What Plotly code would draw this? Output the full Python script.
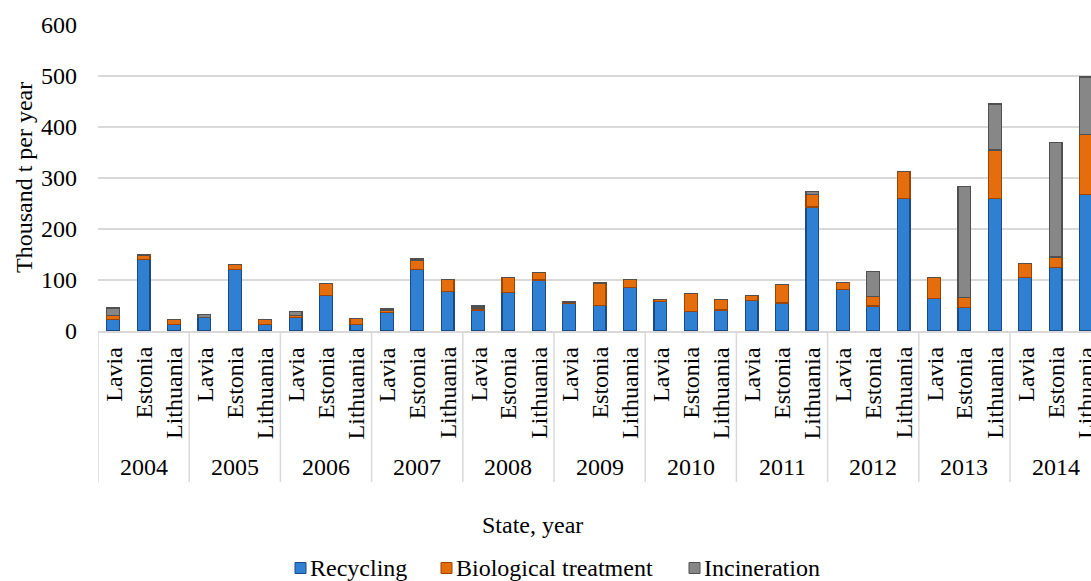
import plotly.graph_objects as go

states = ["Lavia", "Estonia", "Lithuania"]
years = ["2004", "2005", "2006", "2007", "2008", "2009", "2010", "2011", "2012", "2013", "2014"]

recycling = [23, 140, 12, 26, 120, 12, 27, 69, 12, 36, 120, 78, 41, 76, 100, 54, 50, 85,
             58, 38, 41, 60, 55, 243, 82, 49, 260, 64, 46, 260, 105, 124, 267]
biological = [7, 9, 10, 1, 11, 10, 4, 24, 12, 5, 18, 23, 4, 29, 15, 3, 43, 16,
              3, 35, 20, 9, 36, 24, 13, 19, 53, 41, 20, 95, 27, 21, 118]
incineration = [15, 0, 0, 5, 0, 0, 7, 0, 0, 3, 3, 0, 4, 0, 0, 0, 2, 0,
                0, 0, 0, 0, 0, 6, 0, 49, 0, 0, 217, 90, 0, 225, 113]

series_names = ["Recycling", "Biological treatment", "Incineration"]
FONT = "Liberation Serif"
FS = 24

n = len(years) * len(states)
xpos = list(range(n))

styles = [("#2f80d2", "#1a4a85"), ("#e66d0c", "#9a4405"), ("#878787", "#505050")]

fig = go.Figure()
for name, vals, (col, edge) in zip(series_names, [recycling, biological, incineration], styles):
    fig.add_trace(go.Bar(
        x=xpos, y=vals, name=name, width=0.42, showlegend=False,
        marker=dict(color=col, line=dict(color=edge, width=1.2)),
    ))

W, H = 1091, 581
ml, mt, mb = 98, 25, 250
plot_w = W - ml
plot_h = H - mt - mb
cat_px = 30.4
xmax = -0.5 + plot_w / cat_px
base_y = mt + plot_h


def px_x(p):
    return (p - ml) / plot_w


def px_y(p):
    return (base_y - p) / plot_h


annotations = []
for i in range(n):
    annotations.append(dict(
        x=i, xref="x", y=px_y(345), yref="paper", text=states[i % 3],
        textangle=-90, xanchor="center", yanchor="top", showarrow=False,
        font=dict(family=FONT, size=FS, color="#000")))
for g, yr in enumerate(years):
    annotations.append(dict(
        x=g * 3 + 1, xref="x", y=px_y(467), yref="paper", text=yr,
        xanchor="center", yanchor="middle", showarrow=False,
        font=dict(family=FONT, size=FS, color="#000")))
annotations.append(dict(
    x=px_x(532), xref="paper", y=px_y(525), yref="paper",
    text="State, year", showarrow=False, xanchor="center", yanchor="middle",
    font=dict(family=FONT, size=FS, color="#000")))
annotations.append(dict(
    x=px_x(24), xref="paper", y=0.5, yref="paper",
    text="Thousand t per year", textangle=-90, showarrow=False,
    xanchor="center", yanchor="middle",
    font=dict(family=FONT, size=FS, color="#000")))

shapes = []
for g in range(len(years) + 1):
    shapes.append(dict(type="line", xref="x", yref="paper",
                       x0=g * 3 - 0.5, x1=g * 3 - 0.5, y0=0, y1=px_y(482),
                       line=dict(color="#d9d9d9", width=1.5)))

# custom legend
legend_sq_x = [295, 441, 689]
legend_y = 568
for name, sx, (col, edge) in zip(series_names, legend_sq_x, styles):
    shapes.append(dict(type="rect", xref="paper", yref="paper",
                       x0=px_x(sx), x1=px_x(sx + 11), y0=px_y(legend_y + 5.5), y1=px_y(legend_y - 5.5),
                       fillcolor=col, line=dict(color=edge, width=1)))
    annotations.append(dict(
        x=px_x(sx + 13), xref="paper", y=px_y(legend_y), yref="paper", text=name,
        xanchor="left", yanchor="middle", showarrow=False,
        font=dict(family=FONT, size=FS, color="#000")))

fig.update_layout(
    width=W, height=H, barmode="stack",
    margin=dict(l=ml, r=0, t=mt, b=mb, pad=0),
    paper_bgcolor="white", plot_bgcolor="white",
    font=dict(family=FONT, size=FS, color="#000"),
    showlegend=False,
    xaxis=dict(range=[-0.5, xmax], showticklabels=False, showgrid=False,
               zeroline=False, showline=True, linecolor="#d9d9d9", linewidth=1.5,
               ticks=""),
    yaxis=dict(range=[0, 600], dtick=100, showgrid=True, gridcolor="#d9d9d9",
               gridwidth=1.5, zeroline=False, showline=False, ticks="",
               ticklabelstandoff=20,
               tickfont=dict(family=FONT, size=FS, color="#000")),
    annotations=annotations, shapes=shapes, bargap=0.58,
)

fig.write_html("out.html", config={"displayModeBar": False},
               post_script="document.body.style.margin='0';document.body.style.overflow='hidden';")
